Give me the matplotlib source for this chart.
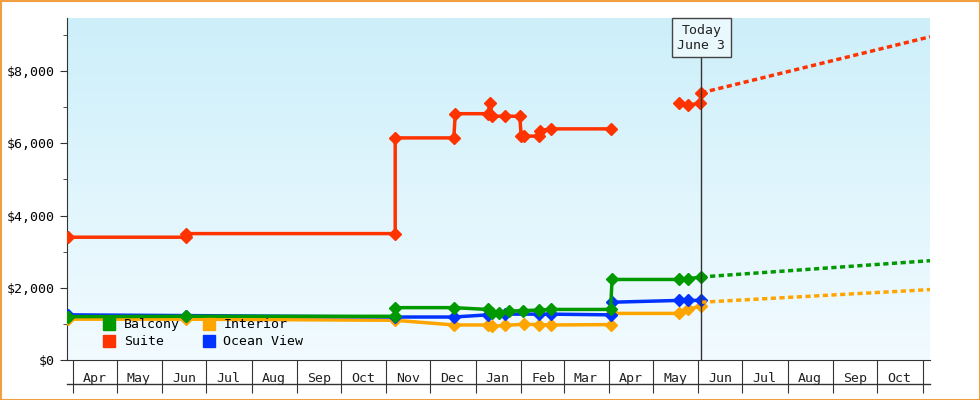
import matplotlib
matplotlib.use("Agg")
import matplotlib.pyplot as plt
import matplotlib.dates as mdates
import numpy as np
from datetime import datetime, timedelta

plt.rcParams['font.family'] = ['DejaVu Sans Mono']

suite_dates = ["2023-03-29","2023-06-17","2023-06-17","2023-11-07","2023-11-07","2023-12-17","2023-12-18","2024-01-09","2024-01-11","2024-01-12","2024-01-21","2024-01-31","2024-02-01","2024-02-03","2024-02-13","2024-02-14","2024-02-21","2024-04-02"]
suite_vals = [3400,3400,3500,3500,6150,6150,6820,6820,7120,6750,6750,6750,6200,6200,6200,6350,6400,6400]
suite2_dates = ["2024-05-19","2024-05-25","2024-06-02","2024-06-03"]
suite2_vals = [7120,7050,7120,7400]

balcony_dates = ["2023-03-29","2023-06-17","2023-11-07","2023-11-07","2023-12-17","2024-01-09","2024-01-12","2024-01-17","2024-01-24","2024-02-02","2024-02-13","2024-02-21","2024-04-02","2024-04-03","2024-05-19","2024-05-25","2024-06-03"]
balcony_vals = [1200,1210,1210,1450,1450,1400,1300,1300,1350,1370,1380,1400,1400,2230,2230,2250,2300]

ocean_dates = ["2023-03-29","2023-06-17","2023-11-07","2023-12-17","2024-01-09","2024-01-21","2024-02-13","2024-02-21","2024-04-02","2024-04-03","2024-05-19","2024-05-25","2024-06-03"]
ocean_vals = [1250,1230,1190,1190,1250,1270,1270,1270,1250,1600,1650,1650,1650]

interior_dates = ["2023-03-29","2023-06-17","2023-11-07","2023-12-17","2024-01-09","2024-01-12","2024-01-21","2024-02-03","2024-02-13","2024-02-21","2024-04-02","2024-04-03","2024-05-19","2024-05-25","2024-06-03"]
interior_vals = [1130,1130,1100,970,970,930,960,990,980,970,980,1290,1290,1400,1500]

forecast_dates = ["2024-06-03","2024-11-06"]
suite_fc = [7400,8950]
balcony_fc = [2300,2750]
interior_fc = [1600,1950]

month_labels = ["Apr","May","Jun","Jul","Aug","Sep","Oct","Nov","Dec","Jan","Feb","Mar","Apr","May","Jun","Jul","Aug","Sep","Oct"]

C_SUITE, C_BAL, C_INT, C_OV = "#ff3300", "#009900", "#ffa500", "#0033ff"
P = lambda l: [datetime.strptime(s, "%Y-%m-%d") for s in l]

fig = plt.figure(figsize=(9.8, 4.0), dpi=100)
fig.patch.set_facecolor("white")
fig.add_artist(plt.Rectangle((0.5/980, 0.5/400), 979/980, 399/400, transform=fig.transFigure,
                             fill=False, edgecolor="#f0a040", lw=1.5))
ax = fig.add_axes([67/980, 40/400, (930-67)/980, 342/400])
x0, x1 = datetime(2023, 3, 28), datetime(2024, 11, 6)
ax.set_xlim(x0, x1)
ax.set_ylim(0, 9470)
grad = np.linspace(0, 1, 256).reshape(-1, 1)
from matplotlib.colors import LinearSegmentedColormap
cm = LinearSegmentedColormap.from_list("g", ["#f2fbff", "#cdeffa"])
ax.imshow(grad, aspect="auto", cmap=cm, origin="lower",
          extent=[mdates.date2num(x0), mdates.date2num(x1), 0, 9470], zorder=0)

kw = dict(lw=2.5, marker="D", ms=6, zorder=3)
ax.plot(P(interior_dates), interior_vals, color=C_INT, **kw)
ax.plot(P(ocean_dates), ocean_vals, color=C_OV, **kw)
ax.plot(P(balcony_dates), balcony_vals, color=C_BAL, **kw)
ax.plot(P(suite_dates), suite_vals, color=C_SUITE, **kw)
ax.plot(P(suite2_dates), suite2_vals, color=C_SUITE, **kw)
for fc, c in [(suite_fc, C_SUITE), (balcony_fc, C_BAL), (interior_fc, C_INT)]:
    ax.plot(P(forecast_dates), fc, color=c, lw=2.5, ls=(0, (1.5, 1)), zorder=3)

today = datetime(2024, 6, 3)
ax.axvline(today, color="#333333", lw=1, zorder=4)
ax.annotate("Today\nJune 3", xy=(today, 9470), xytext=(0, -4), textcoords="offset points",
            ha="center", va="top", fontsize=9.5, color="#222222", annotation_clip=False,
            bbox=dict(boxstyle="square,pad=0.4", fc="#e8f8fc", ec="#444444", lw=1), zorder=5)

# axes styling
for s in ["top", "right"]:
    ax.spines[s].set_visible(False)
ax.spines["left"].set_color("#333333")
ax.spines["bottom"].set_color("#333333")
ax.set_yticks([0, 2000, 4000, 6000, 8000])
ax.set_yticklabels(["$0", "$2,000", "$4,000", "$6,000", "$8,000"], fontsize=9.5)
ax.set_yticks(np.arange(1000, 9001, 2000), minor=True)
ax.tick_params(axis="y", which="major", length=5, color="#333333")
ax.tick_params(axis="y", which="minor", length=3, color="#333333")

starts = [datetime(2023 + (3 + i) // 12, (3 + i) % 12 + 1, 1) for i in range(len(month_labels) + 1)]
starts = [s for s in starts if s <= x1]
ax.set_xticks(starts)
ax.set_xticklabels([])
ax.tick_params(axis="x", which="major", length=24, direction="out", color="#333333")
mids = [starts[i] + timedelta(days=15) for i in range(len(month_labels))]
for m, lab in zip(mids, month_labels):
    if m < x1:
        ax.text(m, -0.035, lab, transform=ax.get_xaxis_transform(), ha="center", va="top",
                fontsize=9.5, color="#222222")
ax.plot([0, 1], [-24 / 342, -24 / 342], transform=ax.transAxes, color="#333333", lw=1, clip_on=False)

from matplotlib.lines import Line2D
handles = [Line2D([], [], marker="s", ls="", color=c, ms=9) for c in [C_BAL, C_SUITE, C_INT, C_OV]]
ax.legend(handles, ["Balcony", "Suite", "Interior", "Ocean View"], ncol=2, loc="lower left",
          bbox_to_anchor=(0.02, 0.0), frameon=False, fontsize=9.5, handletextpad=0.1,
          columnspacing=1.2, labelspacing=0.3)

fig.savefig("out.png", dpi=100)
